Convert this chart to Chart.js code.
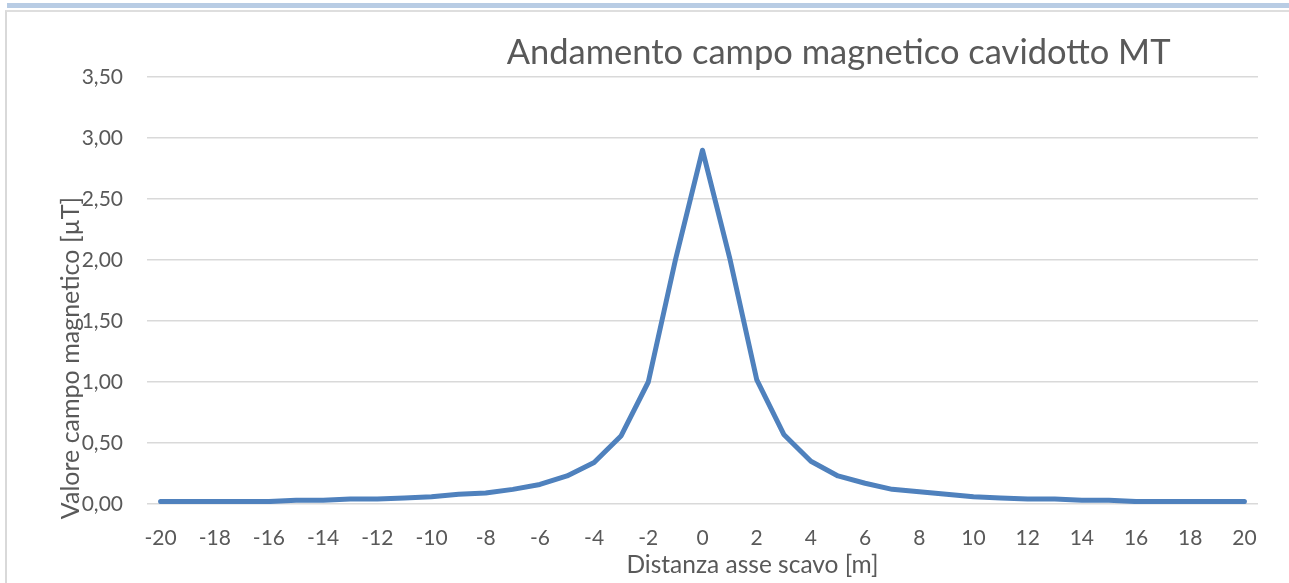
<!DOCTYPE html>
<html>
<head>
<meta charset="utf-8">
<script src="https://cdn.jsdelivr.net/npm/chart.js@4.4.1/dist/chart.umd.min.js"></script>
<style>
  html, body { margin: 0; padding: 0; background: #ffffff; width: 1289px; height: 583px; overflow: hidden; }
  #band { position: absolute; left: 7px; top: 3px; width: 1282px; height: 5px; background: #b8cce4; }
  #frame { position: absolute; left: 5px; top: 10px; width: 1290px; height: 580px; border-left: 2px solid #d9d9d9; border-top: 2px solid #dedede; }
  #c { position: absolute; left: 0; top: 0; }
</style>
</head>
<body>
<div id="band"></div>
<div id="frame"></div>
<canvas id="c" width="1289" height="583"></canvas>
<script>
const chartTitle = 'Andamento campo magnetico cavidotto MT';
const xAxisTitle = 'Distanza asse scavo [m]';
const yAxisTitle = 'Valore campo magnetico [µT]';

const distances = [-20,-19,-18,-17,-16,-15,-14,-13,-12,-11,-10,-9,-8,-7,-6,-5,-4,-3,-2,-1,0,1,2,3,4,5,6,7,8,9,10,11,12,13,14,15,16,17,18,19,20];
const fieldValues = [0.02,0.02,0.02,0.02,0.02,0.03,0.03,0.04,0.04,0.05,0.06,0.08,0.09,0.12,0.16,0.23,0.34,0.56,1.00,2.00,2.90,2.02,1.02,0.57,0.35,0.23,0.17,0.12,0.10,0.08,0.06,0.05,0.04,0.04,0.03,0.03,0.02,0.02,0.02,0.02,0.02];
const shownXTicks = [-20,-18,-16,-14,-12,-10,-8,-6,-4,-2,0,2,4,6,8,10,12,14,16,18,20];
const yTicks = [0, 0.5, 1, 1.5, 2, 2.5, 3, 3.5];

const textColor = '#595959';
const fontFamily = 'Lato, "Open Sans", sans-serif';

const titlesPlugin = {
  id: 'titles',
  afterDraw(chart) {
    const ctx = chart.ctx;
    const a = chart.chartArea;
    ctx.save();
    ctx.fillStyle = textColor;
    ctx.textBaseline = 'alphabetic';
    ctx.textAlign = 'center';
    ctx.font = '34.5px ' + fontFamily;
    ctx.fillText(chartTitle, a.left + (a.right - a.left) * 0.6225, a.top - 13);
    ctx.font = '24.5px ' + fontFamily;
    ctx.fillText(xAxisTitle, a.left + (a.right - a.left) * 0.545, a.bottom + 69);
    ctx.translate(79, a.top + (a.bottom - a.top) * 0.658);
    ctx.rotate(-Math.PI / 2);
    ctx.font = '25px ' + fontFamily;
    ctx.fillText(yAxisTitle, 0, 0);
    ctx.restore();
  }
};

new Chart(document.getElementById('c'), {
  type: 'line',
  data: {
    labels: distances.map(String),
    datasets: [{
      data: fieldValues,
      borderColor: '#4f81bd',
      backgroundColor: '#4f81bd',
      borderWidth: 5,
      borderCapStyle: 'round',
      borderJoinStyle: 'round',
      pointRadius: 0,
      pointHoverRadius: 0,
      tension: 0,
      fill: false
    }]
  },
  options: {
    responsive: false,
    animation: false,
    devicePixelRatio: 1,
    layout: { padding: { top: 77, right: 31, bottom: 0, left: 0 } },
    plugins: {
      legend: { display: false },
      title: { display: false },
      tooltip: { enabled: false }
    },
    scales: {
      x: {
        type: 'category',
        offset: true,
        grid: { display: false, drawTicks: false },
        border: { display: false },
        ticks: {
          autoSkip: false,
          maxRotation: 0,
          minRotation: 0,
          padding: 22,
          color: textColor,
          font: { family: fontFamily, size: 21 },
          callback: function(value, index) {
            const d = distances[index];
            return shownXTicks.includes(d) ? String(d) : '';
          }
        },
        afterFit(scale) { scale.height = 79; }
      },
      y: {
        min: 0,
        max: 3.5,
        afterBuildTicks(scale) { scale.ticks = yTicks.map(v => ({ value: v })); },
        grid: { color: '#d9d9d9', lineWidth: 1.5, drawTicks: false },
        border: { display: false },
        ticks: {
          padding: 24,
          color: textColor,
          font: { family: fontFamily, size: 21 },
          callback: v => v.toFixed(2).replace('.', ',')
        },
        afterFit(scale) { scale.width = 147; }
      }
    }
  },
  plugins: [titlesPlugin]
});
</script>
</body>
</html>
